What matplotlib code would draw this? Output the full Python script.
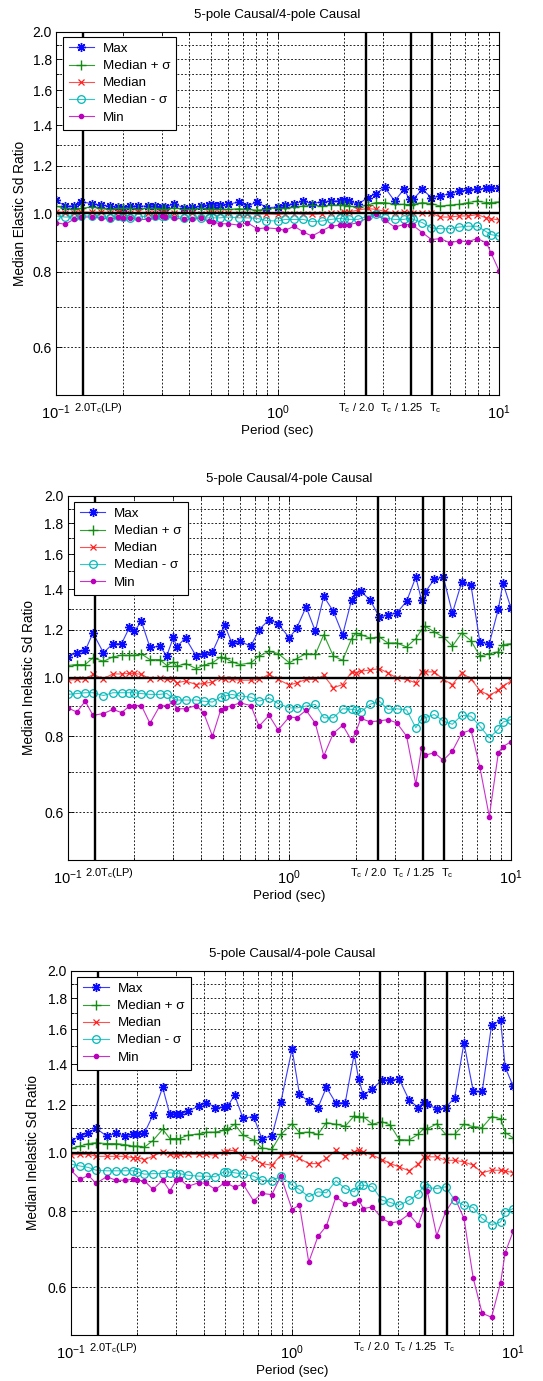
import matplotlib
matplotlib.use("Agg")
import matplotlib.pyplot as plt
import matplotlib.transforms as mtransforms
from matplotlib.lines import Line2D
from matplotlib.ticker import FixedLocator, LogLocator, LogFormatterMathtext, NullFormatter

plt.rcParams["font.family"] = ["Liberation Sans", "DejaVu Sans"]
plt.rcParams["mathtext.fontset"] = "custom"
plt.rcParams["mathtext.rm"] = "Liberation Sans"
plt.rcParams["mathtext.it"] = "Liberation Sans:italic"
plt.rcParams["mathtext.bf"] = "Liberation Sans:bold"

# ---------------------------------------------------------------- data
periods = [0.10, 0.11, 0.12, 0.13, 0.145, 0.16, 0.175, 0.19, 0.20, 0.215,
           0.235, 0.26, 0.28, 0.30, 0.31, 0.34, 0.38, 0.41, 0.45, 0.49,
           0.51, 0.55, 0.60, 0.67, 0.73, 0.81, 0.89, 1.00, 1.08, 1.19,
           1.31, 1.43, 1.58, 1.74, 1.91, 2.00, 2.10, 2.31, 2.55, 2.78,
           3.05, 3.38, 3.72, 3.95, 4.09, 4.51, 4.95, 5.44, 5.99, 6.60,
           7.24, 7.98, 8.77, 9.20, 10.0]

# Elastic Sd ratio
el_max = [1.051, 1.028, 1.028, 1.045, 1.038, 1.032, 1.028, 1.024, 1.022, 1.028,
          1.028, 1.028, 1.028, 1.024, 1.024, 1.035, 1.022, 1.024, 1.028, 1.032,
          1.032, 1.032, 1.035, 1.045, 1.028, 1.045, 1.022, 1.024, 1.032, 1.038,
          1.048, 1.038, 1.045, 1.048, 1.048, 1.051, 1.048, 1.035, 1.062, 1.078,
          1.104, 1.048, 1.096, 1.055, 1.055, 1.096, 1.062, 1.069, 1.078, 1.089,
          1.094, 1.096, 1.101, 1.101, 1.101]
el_plus = [1.028, 1.019, 1.015, 1.019, 1.025, 1.022, 1.015, 1.020, 1.020, 1.022,
           1.018, 1.020, 1.020, 1.018, 1.018, 1.020, 1.018, 1.016, 1.020, 1.018,
           1.018, 1.016, 1.015, 1.018, 1.015, 1.012, 1.016, 1.022, 1.022, 1.025,
           1.028, 1.032, 1.028, 1.032, 1.032, 1.032, 1.028, 1.025, 1.032, 1.042,
           1.042, 1.035, 1.035, 1.032, 1.035, 1.042, 1.038, 1.028, 1.032, 1.035,
           1.042, 1.048, 1.042, 1.042, 1.045]
el_med = [1.006, 1.003, 1.003, 1.006, 1.004, 1.005, 1.003, 1.004, 1.003, 1.002,
          1.004, 1.003, 1.002, 1.000, 1.001, 1.002, 1.000, 1.001, 0.999, 1.000,
          1.001, 1.000, 1.000, 0.998, 0.999, 0.997, 0.998, 0.996, 0.998, 0.999,
          0.997, 0.996, 0.998, 1.000, 1.003, 1.004, 1.006, 1.012, 1.019, 1.015,
          1.008, 1.000, 1.006, 1.002, 1.000, 1.000, 1.000, 0.986, 0.986, 0.990,
          0.990, 0.995, 0.983, 0.980, 0.975]
el_minus = [0.990, 0.986, 0.986, 0.990, 0.990, 0.990, 0.983, 0.990, 0.988, 0.983,
            0.986, 0.990, 0.990, 0.990, 0.990, 0.990, 0.983, 0.986, 0.981, 0.983,
            0.983, 0.983, 0.986, 0.983, 0.983, 0.981, 0.973, 0.971, 0.977, 0.977,
            0.977, 0.969, 0.971, 0.977, 0.981, 0.979, 0.977, 0.977, 0.990, 0.996,
            0.983, 0.977, 0.977, 0.982, 0.978, 0.965, 0.946, 0.943, 0.943, 0.949,
            0.952, 0.952, 0.932, 0.922, 0.917]
el_min = [0.965, 0.959, 0.977, 0.986, 0.986, 0.983, 0.977, 0.986, 0.984, 0.983,
          0.977, 0.977, 0.986, 0.990, 0.988, 0.983, 0.977, 0.977, 0.983, 0.971,
          0.968, 0.961, 0.961, 0.956, 0.965, 0.943, 0.946, 0.943, 0.937, 0.952,
          0.931, 0.917, 0.935, 0.952, 0.956, 0.956, 0.958, 0.965, 0.983, 0.996,
          0.975, 0.949, 0.958, 0.958, 0.955, 0.929, 0.905, 0.908, 0.894, 0.900,
          0.898, 0.908, 0.894, 0.860, 0.804]

# Inelastic Sd ratio, first case
in1_max = [1.083, 1.100, 1.110, 1.186, 1.100, 1.139, 1.139, 1.212, 1.194, 1.240,
           1.123, 1.128, 1.088, 1.168, 1.125, 1.164, 1.086, 1.097, 1.104, 1.183,
           1.224, 1.142, 1.149, 1.128, 1.201, 1.248, 1.229, 1.164, 1.209, 1.310,
           1.194, 1.363, 1.288, 1.179, 1.346, 1.380, 1.390, 1.346, 1.260, 1.272,
           1.280, 1.338, 1.467, 1.343, 1.384, 1.456, 1.467, 1.280, 1.438, 1.422,
           1.145, 1.139, 1.300, 1.434, 1.304]
in1_plus = [1.048, 1.052, 1.052, 1.079, 1.065, 1.083, 1.090, 1.089, 1.089, 1.095,
            1.072, 1.072, 1.048, 1.063, 1.045, 1.056, 1.036, 1.049, 1.059, 1.083,
            1.079, 1.063, 1.052, 1.059, 1.086, 1.106, 1.097, 1.059, 1.076, 1.097,
            1.093, 1.179, 1.086, 1.069, 1.161, 1.186, 1.179, 1.164, 1.168, 1.142,
            1.142, 1.125, 1.161, 1.201, 1.217, 1.191, 1.168, 1.128, 1.186, 1.152,
            1.086, 1.097, 1.104, 1.135, 1.139]
in1_med = [0.991, 0.994, 0.996, 1.013, 0.997, 1.015, 1.015, 1.017, 1.017, 1.013,
           0.997, 1.000, 0.994, 0.994, 0.981, 0.988, 0.975, 0.979, 0.984, 1.000,
           0.997, 0.994, 0.991, 0.991, 0.994, 1.013, 0.994, 0.973, 0.981, 0.994,
           0.994, 1.009, 0.963, 0.975, 1.023, 1.019, 1.026, 1.030, 1.036, 1.019,
           1.000, 0.994, 0.981, 1.023, 1.023, 1.023, 0.994, 0.975, 1.019, 0.996,
           0.953, 0.935, 0.954, 0.969, 0.988]
in1_minus = [0.939, 0.942, 0.945, 0.945, 0.935, 0.945, 0.945, 0.945, 0.945, 0.942,
             0.939, 0.939, 0.942, 0.923, 0.919, 0.919, 0.919, 0.915, 0.912, 0.930,
             0.933, 0.939, 0.933, 0.929, 0.915, 0.926, 0.907, 0.892, 0.892, 0.898,
             0.904, 0.859, 0.859, 0.889, 0.887, 0.885, 0.878, 0.904, 0.915, 0.887,
             0.889, 0.885, 0.827, 0.856, 0.859, 0.870, 0.848, 0.838, 0.867, 0.864,
             0.832, 0.796, 0.822, 0.845, 0.853]
in1_min = [0.892, 0.878, 0.915, 0.867, 0.873, 0.887, 0.876, 0.898, 0.900, 0.900,
           0.841, 0.898, 0.900, 0.912, 0.889, 0.889, 0.900, 0.876, 0.801, 0.885,
           0.892, 0.900, 0.909, 0.900, 0.832, 0.867, 0.820, 0.862, 0.859, 0.884,
           0.841, 0.743, 0.810, 0.835, 0.788, 0.815, 0.857, 0.846, 0.849, 0.853,
           0.843, 0.801, 0.667, 0.767, 0.745, 0.752, 0.731, 0.757, 0.810, 0.820,
           0.711, 0.590, 0.752, 0.770, 0.784]

# Inelastic Sd ratio, second case
in2_max = [1.046, 1.066, 1.079, 1.098, 1.066, 1.077, 1.066, 1.075, 1.075, 1.078,
           1.155, 1.283, 1.158, 1.161, 1.158, 1.173, 1.196, 1.211, 1.188, 1.190,
           1.193, 1.245, 1.141, 1.148, 1.056, 1.066, 1.214, 1.485, 1.250, 1.216,
           1.188, 1.283, 1.208, 1.211, 1.457, 1.324, 1.247, 1.274, 1.321, 1.321,
           1.324, 1.223, 1.188, 1.214, 1.203, 1.181, 1.188, 1.234, 1.520, 1.263,
           1.263, 1.624, 1.656, 1.385, 1.288]
in2_plus = [1.017, 1.026, 1.036, 1.039, 1.036, 1.036, 1.032, 1.026, 1.026, 1.022,
            1.048, 1.094, 1.056, 1.056, 1.056, 1.070, 1.075, 1.082, 1.082, 1.089,
            1.094, 1.115, 1.070, 1.050, 1.019, 1.013, 1.073, 1.117, 1.080, 1.082,
            1.073, 1.122, 1.115, 1.107, 1.151, 1.147, 1.147, 1.115, 1.126, 1.112,
            1.052, 1.050, 1.073, 1.098, 1.096, 1.117, 1.073, 1.073, 1.115, 1.105,
            1.101, 1.148, 1.139, 1.080, 1.059]
in2_med = [0.991, 0.995, 0.995, 0.987, 0.987, 0.987, 0.987, 0.982, 0.982, 0.975,
           0.987, 1.005, 0.995, 0.991, 0.995, 0.995, 0.995, 0.995, 0.991, 1.004,
           1.008, 1.010, 0.985, 0.979, 0.960, 0.954, 0.991, 0.995, 0.979, 0.960,
           0.960, 0.979, 1.010, 0.987, 1.004, 1.010, 1.004, 0.991, 0.975, 0.960,
           0.948, 0.934, 0.958, 0.985, 0.985, 0.985, 0.972, 0.972, 0.966, 0.954,
           0.927, 0.936, 0.936, 0.934, 0.927]
in2_minus = [0.958, 0.951, 0.946, 0.936, 0.934, 0.934, 0.934, 0.934, 0.930, 0.922,
             0.924, 0.924, 0.927, 0.924, 0.924, 0.918, 0.915, 0.915, 0.913, 0.930,
             0.930, 0.927, 0.922, 0.915, 0.901, 0.899, 0.915, 0.884, 0.870, 0.846,
             0.862, 0.859, 0.899, 0.873, 0.862, 0.884, 0.884, 0.879, 0.835, 0.828,
             0.819, 0.835, 0.855, 0.884, 0.876, 0.873, 0.879, 0.835, 0.819, 0.812,
             0.779, 0.760, 0.769, 0.799, 0.809]
in2_min = [0.936, 0.904, 0.918, 0.890, 0.913, 0.901, 0.901, 0.904, 0.901, 0.899,
           0.870, 0.901, 0.865, 0.901, 0.904, 0.881, 0.893, 0.890, 0.870, 0.890,
           0.890, 0.877, 0.888, 0.833, 0.857, 0.853, 0.915, 0.806, 0.820, 0.660,
           0.728, 0.757, 0.846, 0.823, 0.827, 0.837, 0.809, 0.814, 0.779, 0.766,
           0.770, 0.792, 0.760, 0.809, 0.865, 0.730, 0.799, 0.843, 0.779, 0.620,
           0.543, 0.535, 0.610, 0.684, 0.742]

series_labels = ["Max", "Median + \u03c3", "Median", "Median - \u03c3", "Min"]
title_text = "5-pole Causal/4-pole Causal"
xlabel_text = "Period (sec)"
ylabel_texts = ["Median Elastic Sd Ratio", "Median Inelastic Sd Ratio",
                "Median Inelastic Sd Ratio"]

# Reference periods (vertical markers) and their captions
ref_periods = [0.133, 2.5, 4.0, 5.0]
ref_captions = [r"2.0T$_{\mathrm{c}}$(LP)", r"T$_{\mathrm{c}}$ / 2.0",
                r"T$_{\mathrm{c}}$ / 1.25", r"T$_{\mathrm{c}}$"]
caption_x = [0.155, 2.28, 3.64, 5.14]

yticks_major = [0.6, 0.8, 1.0, 1.2, 1.4, 1.6, 1.8, 2.0]
yticks_minor = [0.5, 0.7, 0.9, 1.1, 1.3, 1.5, 1.7, 1.9]

panels = [
    [el_max, el_plus, el_med, el_minus, el_min],
    [in1_max, in1_plus, in1_med, in1_minus, in1_min],
    [in2_max, in2_plus, in2_med, in2_minus, in2_min],
]

# ---------------------------------------------------------------- styling
# (line colour, marker colour, marker, marker size, marker edge width, filled)
styles = [
    ("#3a3aff", "#0a0aff", (8, 2, 0), 6.5, 1.0, True),
    ("#30a030", "#138a13", "+", 7.0, 1.0, True),
    ("#ff5050", "#ff2020", "x", 4.5, 0.9, True),
    ("#30c8c8", "#00b8b8", "o", 5.5, 0.9, False),
    ("#cc30cc", "#bb00bb", ".", 6.0, 1.0, True),
]

W, H = 543, 1381
fig = plt.figure(figsize=(W / 100, H / 100), dpi=100)
fig.patch.set_facecolor("white")

# axes boxes in pixels: left, top, right, bottom
boxes = [(56, 31.7, 499, 395), (67.7, 495.7, 511, 860), (70.9, 970.7, 513.2, 1335)]
legend_off = [(6.7, 5.0), (6.3, 6.0), (6.5, 6.0)]
ylabel_x = [-0.081, -0.087, -0.085]

for i, (box, data) in enumerate(zip(boxes, panels)):
    l, t, r, b = box
    ax = fig.add_axes([l / W, 1 - b / H, (r - l) / W, (b - t) / H])
    ax.set_xscale("log")
    ax.set_yscale("log")
    ax.set_xlim(0.1, 10)
    ax.set_ylim(0.5, 2.0)

    ax.xaxis.set_major_locator(LogLocator(base=10))
    ax.xaxis.set_minor_locator(LogLocator(base=10, subs=range(2, 10)))
    ax.xaxis.set_major_formatter(LogFormatterMathtext())
    ax.xaxis.set_minor_formatter(NullFormatter())
    ax.yaxis.set_major_locator(FixedLocator(yticks_major))
    ax.yaxis.set_minor_locator(FixedLocator(yticks_minor))
    ax.yaxis.set_major_formatter(plt.FuncFormatter(lambda v, p: f"{v:.1f}"))
    ax.yaxis.set_minor_formatter(NullFormatter())

    ax.grid(True, which="both", color="black", linestyle=(0, (2.2, 2.2)),
            linewidth=0.6, zorder=0)
    ax.set_axisbelow(True)
    ax.tick_params(which="both", direction="in", top=True, right=True, width=0.6)
    ax.tick_params(which="major", length=4)
    ax.tick_params(which="minor", length=2)
    ax.tick_params(axis="x", pad=6, labelsize=10.5)
    ax.tick_params(axis="y", pad=3, labelsize=10)
    for sp in ax.spines.values():
        sp.set_linewidth(0.8)

    handles = []
    for values, st, lab in zip(data, styles, series_labels):
        lc, mc, mk, ms, mew, filled = st
        mfc = mc if filled else "none"
        ax.plot(periods, values, color=lc, linewidth=0.8, zorder=2)
        ax.plot(periods, values, linestyle="none", marker=mk, ms=ms, mew=mew,
                mec=mc, mfc=mfc, zorder=2.1)
        handles.append(Line2D([], [], color=lc, linewidth=0.8, marker=mk, ms=ms,
                              mew=mew, mec=mc, mfc=mfc, label=lab))

    for p in ref_periods:
        ax.axvline(p, color="black", linewidth=1.7, zorder=3)
    ax.axhline(1.0, color="black", linewidth=1.7, zorder=3)

    trans = mtransforms.blended_transform_factory(ax.transData, ax.transAxes)
    axh = b - t
    for cx, cap in zip(caption_x, ref_captions):
        ax.text(cx, -15.7 / axh, cap, transform=trans, ha="center",
                va="baseline", fontsize=8)

    ax.text(0.5, 1 + 16.5 / axh, title_text, transform=ax.transAxes,
            ha="center", va="center", fontsize=9.5)
    ax.set_xlabel(xlabel_text, fontsize=9.6, va="center")
    ax.xaxis.set_label_coords(0.5, -35.7 / axh)
    ax.set_ylabel(ylabel_texts[i], fontsize=9.8, va="center")
    ax.yaxis.set_label_coords(ylabel_x[i], 0.5)

    ox, oy = legend_off[i]
    leg = ax.legend(handles=handles, loc="upper left",
                    bbox_to_anchor=(ox / (r - l), 1 - oy / axh),
                    borderaxespad=0, fancybox=False, framealpha=1,
                    edgecolor="black", fontsize=9.6, handlelength=1.9,
                    handletextpad=0.65, labelspacing=0.36, borderpad=0.45)
    leg.get_frame().set_linewidth(0.8)
    leg.set_zorder(5)

fig.savefig("out.png", dpi=100, facecolor=fig.get_facecolor())
